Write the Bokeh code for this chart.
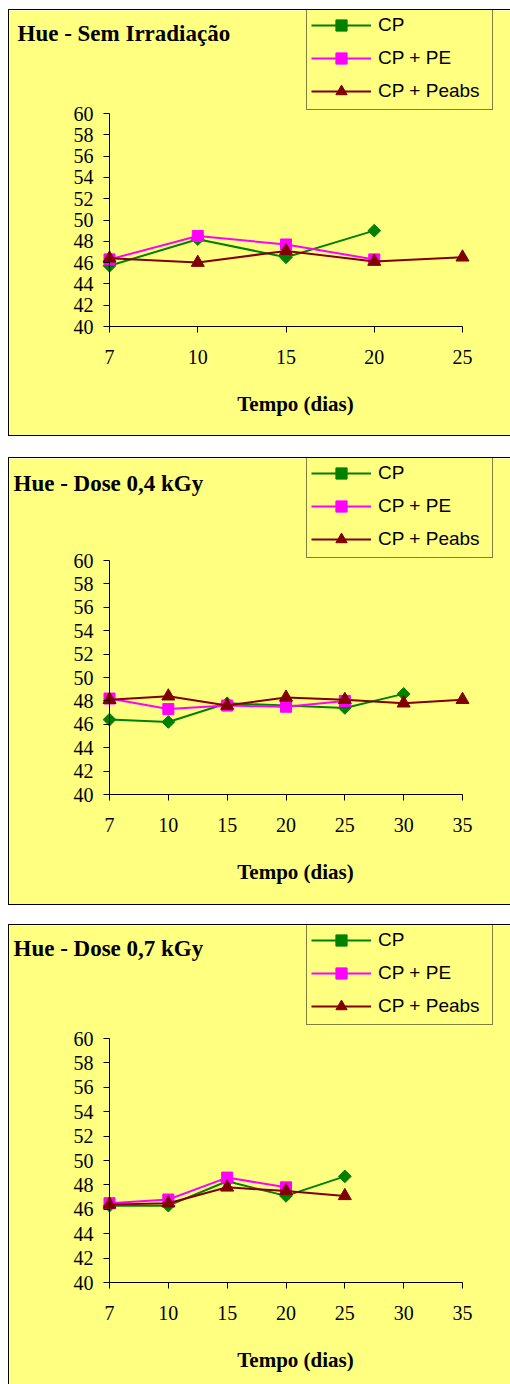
import numpy as np
from bokeh.plotting import figure
from bokeh.models import Range1d, FixedTicker, Legend, LegendItem, Label
from bokeh.layouts import column
from bokeh.embed import file_html
from bokeh.resources import INLINE

# ---------------- data ----------------
titles = ["Hue - Sem Irradiação", "Hue - Dose 0,4 kGy", "Hue - Dose 0,7 kGy"]
x_title = "Tempo (dias)"
series_names = ["CP", "CP + PE", "CP + Peabs"]
y_ticks = [40, 42, 44, 46, 48, 50, 52, 54, 56, 58, 60]

days_1 = ["7", "10", "15", "20", "25"]
cp_1 = [45.7, 48.2, 46.5, 49.0]
pe_1 = [46.3, 48.5, 47.7, 46.3]
peabs_1 = [46.4, 46.0, 47.1, 46.1, 46.5]

days_2 = ["7", "10", "15", "20", "25", "30", "35"]
cp_2 = [46.4, 46.2, 47.8, 47.6, 47.4, 48.6]
pe_2 = [48.2, 47.3, 47.6, 47.5, 48.0]
peabs_2 = [48.1, 48.4, 47.6, 48.3, 48.1, 47.8, 48.1]

days_3 = ["7", "10", "15", "20", "25", "30", "35"]
cp_3 = [46.3, 46.3, 48.3, 47.1, 48.7]
pe_3 = [46.5, 46.8, 48.6, 47.8]
peabs_3 = [46.4, 46.5, 47.8, 47.5, 47.1]

# ---------------- style ----------------
YEL = "#FFFF80"
COLORS = ["#008000", "#FF00FF", "#800000"]
SERIF = "Liberation Serif"
SANS = "Liberation Sans"

W = 501
LEFT_MARGIN = 9
FRAME_L, FRAME_R = 9, 510       # absolute frame edges
AX0, AX1 = 109, 462             # absolute pixel of first / last category


def make_panel(days, series, title, height, m_top, y60, y40, t_x, t_mid):
    n = len(days)
    unit = (AX1 - AX0) / (n - 1)
    xs = -(AX0 - FRAME_L) / unit
    xe = (n - 1) + (FRAME_R - AX1) / unit
    ppu = (y40 - y60) / (y_ticks[-1] - y_ticks[0])
    ye = y_ticks[-1] + y60 / ppu
    ys = y_ticks[0] - (height - y40) / ppu
    p = figure(width=W, height=height, x_range=Range1d(xs, xe),
               y_range=Range1d(ys, ye),
               y_axis_location="right", x_axis_location="above",
               output_backend="svg", toolbar_location=None,
               min_border_left=0, min_border_right=0,
               min_border_top=0, min_border_bottom=0,
               background_fill_color=YEL, border_fill_color=YEL,
               outline_line_color=None,
               margin=(m_top, 0, 0, LEFT_MARGIN),
               styles={"outline": "1px solid black"})
    p.grid.visible = False

    # x axis: drawn at y = 40, ticks and labels below it
    xa = p.xaxis[0]
    xa.ticker = FixedTicker(ticks=list(range(n)))
    xa.major_label_overrides = {i: d for i, d in enumerate(days)}
    xa.fixed_location = y_ticks[0]
    xa.bounds = (0, n - 1)
    xa.major_tick_in = 6
    xa.major_tick_out = 0
    xa.minor_tick_out = 0
    xa.minor_tick_in = 0
    xa.axis_line_color = "black"
    xa.major_tick_line_color = "black"
    xa.major_label_text_font = SERIF
    xa.major_label_text_font_size = "20px"
    xa.major_label_text_color = "black"
    xa.major_label_standoff = -37

    # y axis: drawn at the first category, labels to its left
    ya = p.yaxis[0]
    ya.ticker = FixedTicker(ticks=y_ticks)
    ya.fixed_location = 0
    ya.bounds = (y_ticks[0], y_ticks[-1])
    ya.major_tick_in = 6
    ya.major_tick_out = 0
    ya.minor_tick_out = 0
    ya.minor_tick_in = 0
    ya.axis_line_color = "black"
    ya.major_tick_line_color = "black"
    ya.major_label_text_font = SERIF
    ya.major_label_text_font_size = "20px"
    ya.major_label_text_color = "black"
    ya.major_label_standoff = -36

    items = []
    markers = [("square", np.pi / 4, 9), ("square", 0, 11), ("triangle", 0, 13)]
    for name, vals, col, (mk, ang, sz) in zip(series_names, series, COLORS, markers):
        xi = list(range(len(vals)))
        r1 = p.line(xi, vals, line_color=col, line_width=2)
        r2 = p.scatter(xi, vals, marker=mk, angle=ang, size=sz,
                       fill_color=col, line_color=col)
        items.append(LegendItem(label=name, renderers=[r1, r2]))

    legend_h = 101
    legend = Legend(items=items, location=(306 - FRAME_L, height - legend_h + 1),
                    background_fill_color=YEL, background_fill_alpha=1,
                    border_line_color="black", border_line_width=1,
                    label_text_font=SANS, label_text_font_size="19px",
                    label_text_color="black",
                    glyph_width=60, glyph_height=28, label_standoff=7,
                    spacing=5, padding=4, margin=0, label_width=110)
    p.add_layout(legend)

    p.add_layout(Label(x=t_x - FRAME_L, y=height - t_mid, x_units="screen", y_units="screen",
                       text=title, text_font=SERIF, text_font_style="bold",
                       text_font_size="23px", text_color="black",
                       text_baseline="middle", text_align="left"))
    p.add_layout(Label(x=295 - FRAME_L, y=height - (y40 + 77), x_units="screen", y_units="screen",
                       text=x_title, text_font=SERIF, text_font_style="bold",
                       text_font_size="21px", text_color="black",
                       text_baseline="middle", text_align="center"))
    return p


p1 = make_panel(days_1, [cp_1, pe_1, peabs_1], titles[0], 425, 10, 103, 316, 17, 23)
p2 = make_panel(days_2, [cp_2, pe_2, peabs_2], titles[1], 446, 23, 102, 336, 13, 25)
p3 = make_panel(days_3, [cp_3, pe_3, peabs_3], titles[2], 459, 21, 113, 357, 13, 23)

layout = column(p1, p2, p3, spacing=0)
open("out.html", "w").write(file_html(layout, INLINE))
